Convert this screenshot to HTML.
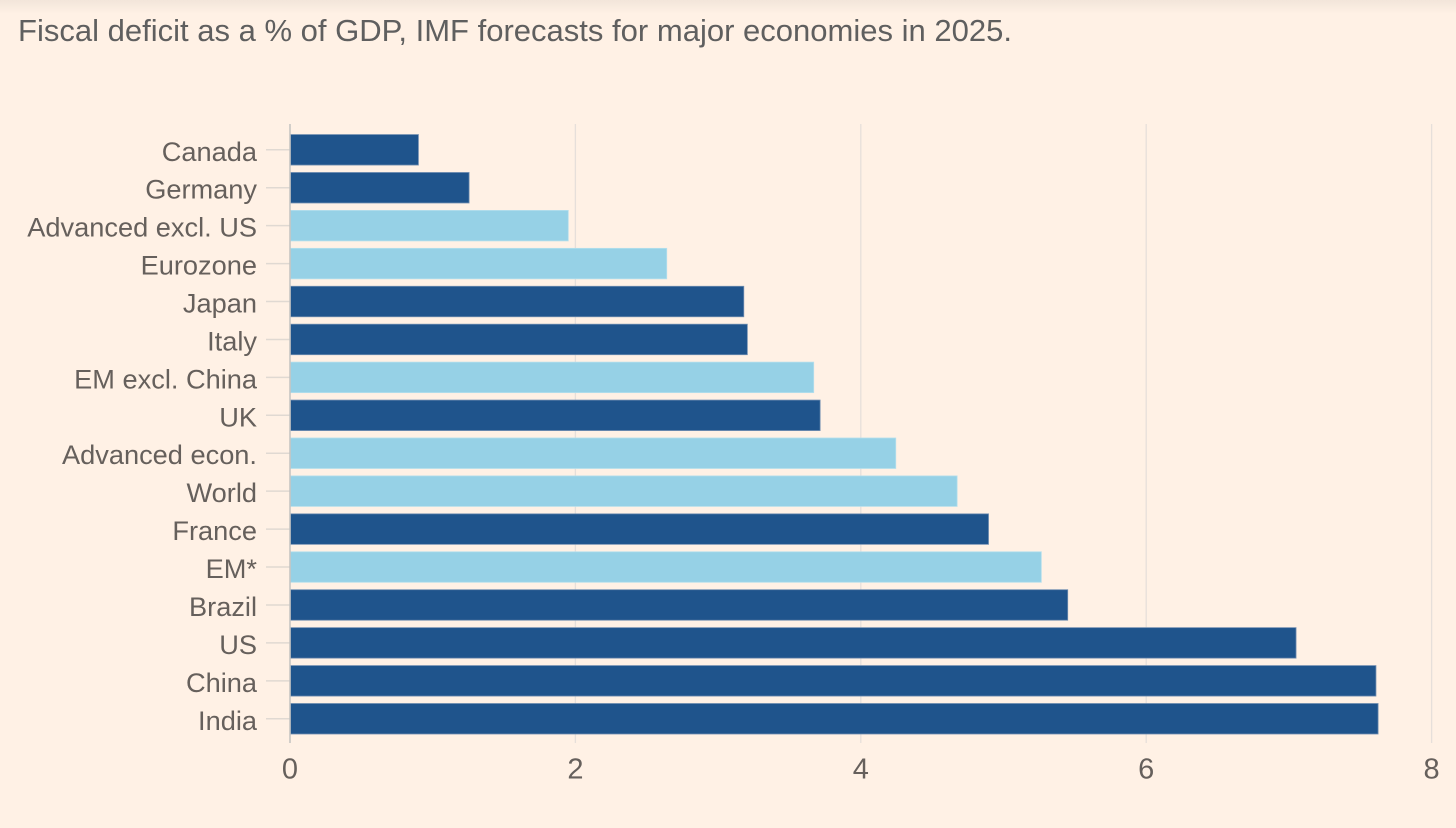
<!DOCTYPE html>
<html lang="en">
<head>
<meta charset="utf-8">
<title>Fiscal deficit as a % of GDP</title>
<style>
  html, body { margin: 0; padding: 0; width: 1456px; height: 828px; overflow: hidden; background: #fff1e5; }
  svg { display: block; font-family: "Liberation Sans", sans-serif; }
</style>
</head>
<body>
<svg id="chart" width="1456" height="828" viewBox="0 0 1456 828" xmlns="http://www.w3.org/2000/svg">
  <defs>
    <linearGradient id="topShade" x1="0" y1="0" x2="0" y2="1">
      <stop offset="0" stop-color="#f2e5da"/>
      <stop offset="1" stop-color="#fff1e5"/>
    </linearGradient>
  </defs>
  <rect x="0" y="0" width="1456" height="828" fill="#fff1e5"/>
  <rect x="0" y="0" width="1456" height="14" fill="url(#topShade)"/>
  <text id="chart-title" x="18" y="41" font-size="30.5" fill="#5f5f5f" textLength="994" lengthAdjust="spacingAndGlyphs">Fiscal deficit as a % of GDP, IMF forecasts for major economies in 2025.</text>
  <g id="grid"></g>
  <g id="y-ticks"></g>
  <g id="bars"></g>
  <g id="y-labels"></g>
  <g id="x-labels"></g>
  <line id="y-axis" x1="290" x2="290" y1="124" y2="743" stroke="#c3c2c0" stroke-width="1.5"/>
</svg>
<script>
const categories = ["Canada", "Germany", "Advanced excl. US", "Eurozone", "Japan", "Italy", "EM excl. China", "UK", "Advanced econ.", "World", "France", "EM*", "Brazil", "US", "China", "India"];
const deficitValues = [0.90, 1.255, 1.95, 2.64, 3.18, 3.205, 3.67, 3.715, 4.245, 4.675, 4.895, 5.265, 5.45, 7.05, 7.61, 7.625];
const seriesGroups = ["country", "country", "aggregate", "aggregate", "country", "country", "aggregate", "country", "aggregate", "aggregate", "country", "aggregate", "country", "country", "country", "country"];
const xTickValues = [0, 2, 4, 6, 8];

const NS = "http://www.w3.org/2000/svg";
const X0 = 290;
const X_PER_UNIT = 142.7;
const Y_FIRST_CENTER = 149.8;
const Y_STEP = 37.93;
const BAR_HEIGHT = 30.5;
const groupColors = { country: "#1f548c", aggregate: "#96d1e6" };
const groupStrokes = { country: "#6f8db0", aggregate: "#b5dfec" };

function xScale(v) { return X0 + v * X_PER_UNIT; }
function yScale(i) { return Y_FIRST_CENTER + i * Y_STEP; }
function slug(s) { return s.toLowerCase().replace(/[^a-z0-9]+/g, "-").replace(/^-|-$/g, ""); }
function make(tag) { return document.createElementNS(NS, tag); }

const gridG = document.getElementById("grid");
const xLabelG = document.getElementById("x-labels");
xTickValues.forEach(function (t) {
  if (t !== 0) {
    const line = make("line");
    
    
    line.setAttribute("x1", xScale(t));
    line.setAttribute("x2", xScale(t));
    line.setAttribute("y1", 124);
    line.setAttribute("y2", 743);
    line.setAttribute("stroke", "#e6dfda");
    line.setAttribute("stroke-width", 1.3);
    gridG.appendChild(line);
  }
  const label = make("text");
  
  
  label.setAttribute("x", xScale(t));
  label.setAttribute("y", 778.5);
  label.setAttribute("text-anchor", "middle");
  label.setAttribute("font-size", 29);
  label.setAttribute("fill", "#66605c");
  label.textContent = t;
  xLabelG.appendChild(label);
});

const tickG = document.getElementById("y-ticks");
const barG = document.getElementById("bars");
const yLabelG = document.getElementById("y-labels");
categories.forEach(function (name, i) {
  const cy = yScale(i);

  const tick = make("line");
  
  
  tick.setAttribute("x1", 266);
  tick.setAttribute("x2", 290);
  tick.setAttribute("y1", cy);
  tick.setAttribute("y2", cy);
  tick.setAttribute("stroke", "#e0d9d2");
  tick.setAttribute("stroke-width", 1.5);
  tickG.appendChild(tick);

  const bar = make("rect");
  
  
  bar.setAttribute("x", xScale(0) + 0.5);
  bar.setAttribute("y", cy - BAR_HEIGHT / 2);
  bar.setAttribute("width", xScale(deficitValues[i]) - xScale(0) - 0.5);
  bar.setAttribute("height", BAR_HEIGHT);
  bar.setAttribute("fill", groupColors[seriesGroups[i]]);
  bar.setAttribute("stroke", groupStrokes[seriesGroups[i]]);
  bar.setAttribute("stroke-width", 0.8);
  barG.appendChild(bar);

  const label = make("text");
  
  
  label.setAttribute("x", 257);
  label.setAttribute("y", cy + 11);
  label.setAttribute("text-anchor", "end");
  label.setAttribute("font-size", 27.2);
  label.setAttribute("fill", "#66605c");
  label.textContent = name;
  yLabelG.appendChild(label);
});
</script>
</body>
</html>
